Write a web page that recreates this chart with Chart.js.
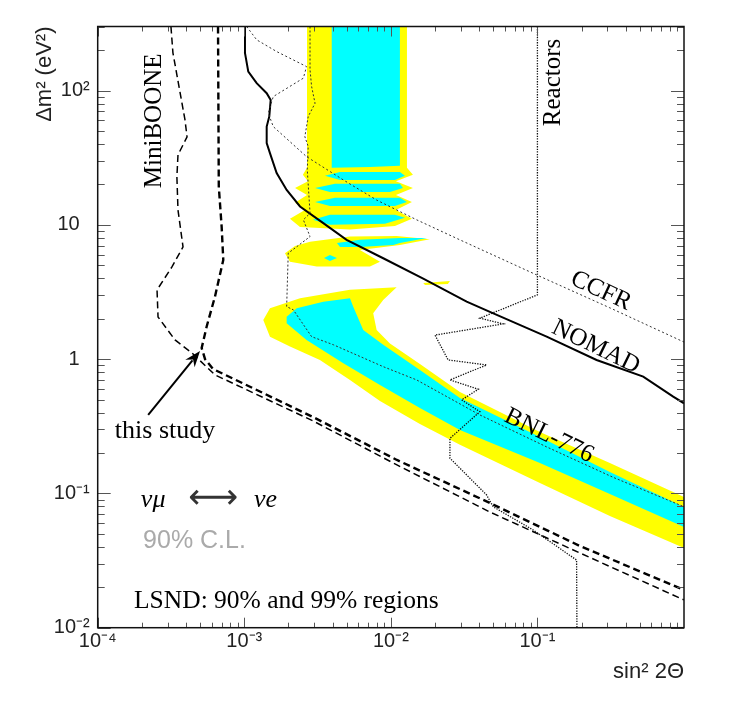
<!DOCTYPE html>
<html><head><meta charset="utf-8">
<script src="https://cdn.jsdelivr.net/npm/chart.js@4.4.0/dist/chart.umd.min.js"></script>
<style>html,body{margin:0;padding:0;background:#fff}canvas{display:block}</style>
</head><body>
<canvas id="c" width="747" height="715"></canvas>
<script>
// ---------- axis ticks ----------
const xTicks = [1e-4, 1e-3, 1e-2, 1e-1];
const xTickLabels = ['10\u207B\u2074', '10\u207B\u00B3', '10\u207B\u00B2', '10\u207B\u00B9'];
const yTicks = [1e-2, 1e-1, 1, 10, 100];
const yTickLabels = ['10\u207B\u00B2', '10\u207B\u00B9', '1\u2002', '10\u2002', '10\u00B2'];

// ---------- exclusion curves [sin^2 2theta, dm^2] ----------
const miniboone = [[3.16e-4,300],[3.26e-4,191],[3.94e-4,60.5],[4.07e-4,45.2],[3.53e-4,33.2],[3.47e-4,22.8],[3.53e-4,12.9],[3.82e-4,6.85],[3.21e-4,4.86],[2.54e-4,3.28],[2.58e-4,2.06],[3.37e-4,1.39],[4.40e-4,1.11],[6.31e-4,0.763],[2.94e-3,0.347],[1.10e-2,0.163],[4.74e-2,0.0727],[0.195,0.036],[1.0,0.0161]];
const thisStudy = [[6.62e-4,300],[6.70e-4,19.3],[7.01e-4,9.65],[7.19e-4,5.48],[6.31e-4,2.92],[5.54e-4,1.75],[5.12e-4,1.21],[5.40e-4,1.0],[6.11e-4,0.845],[2.94e-3,0.371],[1.10e-2,0.1775],[4.74e-2,0.0849],[0.195,0.0406],[1.0,0.0191]];
const nomad = [[1.011e-3,300],[1.011e-3,190.9],[1.065e-3,138.5],[1.215e-3,113.5],[1.422e-3,95.6],[1.514e-3,85.2],[1.481e-3,64.0],[1.422e-3,53.9],[1.422e-3,40.6],[1.497e-3,34.2],[1.663e-3,24.3],[1.946e-3,18.2],[2.40e-3,13.7],[3.46e-3,10.3],[4.99e-3,7.73],[8.87e-3,5.64],[1.663e-2,3.98],[3.29e-2,2.68],[4.74e-2,2.25],[0.1156,1.47],[0.2533,0.986],[0.527,0.741],[0.844,0.526],[1.0,0.469]];
const ccfr = [[1.038e-3,300],[1.215e-3,238.7],[1.663e-3,195.2],[2.66e-3,150.9],[2.53e-3,123.7],[1.577e-3,90.2],[1.458e-3,67.9],[1.577e-3,53.9],[2.66e-3,32.2],[4.74e-3,21.6],[8.00e-3,15.3],[1.50e-2,10.9],[2.96e-2,7.73],[0.0987,4.24],[0.312,2.41],[1.0,1.34]];
const bnl776 = [[2.81e-3,300],[2.81e-3,142.6],[2.88e-3,107.1],[3.04e-3,80.5],[2.73e-3,64.0],[2.59e-3,45.4],[2.73e-3,38.3],[2.69e-3,25.7],[2.81e-3,12.2],[2.53e-3,10.9],[2.81e-3,8.18],[1.995e-3,6.15],[1.946e-3,2.46],[2.16e-3,2.33],[2.88e-3,1.47],[4.05e-3,1.28],[8.87e-3,0.879],[1.50e-2,0.700],[4.05e-2,0.384],[0.1156,0.222],[0.329,0.1317],[1.0,0.0796]];
const reactors = [[0.1,300],[0.1,3.01],[4.05e-2,2.02],[5.84e-2,1.83],[2.00e-2,1.51],[2.46e-2,0.986],[4.50e-2,0.905],[2.53e-2,0.700],[3.95e-2,0.597],[3.04e-2,0.497],[4.05e-2,0.406],[2.53e-2,0.257],[2.53e-2,0.183],[4.50e-2,0.0974],[4.99e-2,0.0796],[9.36e-2,0.0534],[0.185,0.0319],[0.186,0.01]];

// ---------- LSND allowed regions (99% yellow, 90% cyan) ----------
const lsnd99Column = [[2.68e-3,300],[2.68e-3,26.6],[2.51e-3,23.6],[2.72e-3,21.1],[2.22e-3,18.8],[2.68e-3,16.7],[2.22e-3,14.6],[2.59e-3,12.9],[2.05e-3,11.1],[2.40e-3,9.65],[5.26e-3,9.25],[1.066e-2,9.82],[1.393e-2,11.1],[1.083e-2,12.9],[1.393e-2,14.8],[1.083e-2,16.7],[1.415e-2,18.8],[1.083e-2,21.1],[1.415e-2,23.6],[1.288e-2,26.6],[1.288e-2,300]];
const lsnd99Island = [[1.895e-3,6.15],[2.22e-3,6.97],[2.81e-3,7.50],[5.26e-3,8.18],[1.095e-2,8.27],[1.848e-2,7.82],[1.153e-2,7.09],[6.15e-3,6.51],[8.43e-3,5.32],[7.20e-3,4.89],[3.12e-3,4.89],[2.05e-3,5.32]];
const lsnd99Sliver = [[1.663e-2,3.69],[2.53e-2,3.82],[2.45e-2,3.63],[1.71e-2,3.57]];
const lsnd99Band = [[1.095e-2,3.43],[5.26e-3,3.28],[2.40e-3,2.84],[1.497e-3,2.39],[1.348e-3,1.96],[1.497e-3,1.47],[2.05e-3,1.24],[3.28e-3,0.986],[5.26e-3,0.700],[8.43e-3,0.488],[1.579e-2,0.329],[2.96e-2,0.230],[0.104,0.1196],[0.312,0.0679],[1.0,0.0392],[1.0,0.0941],[0.312,0.1686],[0.104,0.287],[2.96e-2,0.570],[1.579e-2,0.921],[9.86e-3,1.31],[8.00e-3,1.65],[7.58e-3,2.20],[8.87e-3,2.76]];
const lsnd90Column = [[3.95e-3,300],[3.95e-3,26.6],[7.20e-3,27.0],[1.153e-2,27.5],[1.153e-2,300]];
const lsnd90Lobe1 = [[3.55e-3,23.2],[4.50e-3,24.8],[1.153e-2,24.8],[1.248e-2,23.2],[1.066e-2,21.6],[4.50e-3,21.6]];
const lsnd90Lobe2 = [[3.04e-3,18.8],[4.16e-3,20.2],[1.153e-2,20.2],[1.21e-2,18.8],[9.86e-3,17.6],[3.84e-3,17.6]];
const lsnd90Lobe3 = [[3.04e-3,14.8],[4.16e-3,15.9],[1.153e-2,15.9],[1.288e-2,14.8],[1.066e-2,13.8],[3.84e-3,13.8]];
const lsnd90Lobe4 = [[2.94e-3,10.9],[3.84e-3,11.9],[1.066e-2,11.9],[1.248e-2,11.3],[9.11e-3,10.2],[3.84e-3,10.0]];
const lsnd90Island = [[4.29e-3,7.34],[6.15e-3,7.73],[1.153e-2,7.99],[1.763e-2,7.99],[1.153e-2,7.34],[1.038e-2,7.09],[6.15e-3,6.85],[4.50e-3,6.85]];
const lsnd90Blob = [[3.50e-3,5.67],[3.84e-3,5.97],[4.29e-3,5.67],[3.84e-3,5.39]];
const lsnd90Band = [[5.26e-3,2.84],[3.46e-3,2.68],[2.28e-3,2.39],[1.946e-3,2.07],[1.946e-3,1.85],[2.66e-3,1.39],[4.74e-3,0.932],[8.43e-3,0.642],[1.579e-2,0.433],[2.96e-2,0.297],[0.104,0.1686],[0.312,0.0991],[1.0,0.0562],[1.0,0.0792],[0.312,0.1445],[0.104,0.263],[2.96e-2,0.514],[1.579e-2,0.831],[8.87e-3,1.28],[6.48e-3,1.65],[5.54e-3,2.46]];

// ---------- annotations ----------
const arrowFrom = [2.21e-4, 0.384];
const arrowTo = [4.99e-4, 1.15];
const SERIF = '"Liberation Serif", "DejaVu Serif", serif';
const SANS = '"Liberation Sans", "DejaVu Sans", sans-serif';
const texts = [
  {t:'MiniBOONE', x:2.42e-4, y:59.5, rot:-90, font:'25px '+SERIF},
  {t:'Reactors', x:0.1296, y:115, rot:-90, font:'25px '+SERIF},
  {t:'CCFR', x:0.271, y:3.22, rot:25, font:'25px '+SERIF},
  {t:'NOMAD', x:0.2506, y:1.23, rot:26, font:'25px '+SERIF},
  {t:'BNL-776', x:0.1198, y:0.268, rot:26, font:'25px '+SERIF},
  {t:'this study', x:2.88e-4, y:0.292, rot:0, font:'26px '+SERIF},
  {t:'\u03BD\u03BC', x:1.97e-4, y:0.0792, rot:0, font:'italic 26px '+SERIF, align:'left', base:'alphabetic'},
  {t:'\u03BDe', x:1.164e-3, y:0.0792, rot:0, font:'italic 26px '+SERIF, align:'left', base:'alphabetic'},
  {t:'90% C.L.', x:2.04e-4, y:0.0392, rot:0, font:'25px '+SANS, color:'#aaaaaa', align:'left', base:'alphabetic'},
  {t:'LSND: 90% and 99% regions', x:1.77e-4, y:0.0140, rot:0, font:'25.5px '+SERIF, align:'left', base:'alphabetic'}
];
const bothArrow = {t:'\u27F7', x:6.11e-4, y:0.0909, width:50};

const pts = a => a.map(p => ({x:p[0], y:p[1]}));
const poly = (d, c, o) => ({data:pts(d), showLine:true, fill:'shape', backgroundColor:c, borderColor:'rgba(0,0,0,0)', borderWidth:0, pointRadius:0, order:o});
const line = (d, w, dash, c) => ({data:pts(d), showLine:true, fill:false, borderColor:c, borderWidth:w, borderDash:dash, pointRadius:0, order:0});
const Y = '#ffff00', C = '#00ffff';

const deco = {
  id:'deco',
  afterDatasetsDraw(chart){
    const {ctx, chartArea:a, scales:{x, y}} = chart;
    ctx.save();
    // inside tick marks on all four sides
    ctx.strokeStyle = '#555'; ctx.lineWidth = 1;
    ctx.beginPath();
    for (let d = -4; d < 0; d++) for (let k = 1; k < 10; k++) {
      const px = Math.round(x.getPixelForValue(k * Math.pow(10, d))) + 0.5;
      const L = k === 1 ? 10 : 5;
      ctx.moveTo(px, a.bottom); ctx.lineTo(px, a.bottom - L);
      ctx.moveTo(px, a.top); ctx.lineTo(px, a.top + L);
    }
    for (let d = -2; d <= 2; d++) for (let k = 1; k < 10; k++) {
      const v = k * Math.pow(10, d); if (v > 300) continue;
      const py = Math.round(y.getPixelForValue(v)) + 0.5;
      const L = k === 1 ? 13 : 7;
      ctx.moveTo(a.left, py); ctx.lineTo(a.left + L, py);
      ctx.moveTo(a.right, py); ctx.lineTo(a.right - L, py);
    }
    ctx.stroke();
    // frame
    ctx.strokeStyle = '#111'; ctx.lineWidth = 1.5;
    ctx.strokeRect(a.left, a.top, a.right - a.left, a.bottom - a.top);
    // arrow "this study"
    const x0 = x.getPixelForValue(arrowFrom[0]), y0 = y.getPixelForValue(arrowFrom[1]);
    const x1 = x.getPixelForValue(arrowTo[0]), y1 = y.getPixelForValue(arrowTo[1]);
    const ang = Math.atan2(y1 - y0, x1 - x0);
    ctx.strokeStyle = '#000'; ctx.fillStyle = '#000'; ctx.lineWidth = 2;
    ctx.beginPath(); ctx.moveTo(x0, y0);
    ctx.lineTo(x1 - 12 * Math.cos(ang), y1 - 12 * Math.sin(ang)); ctx.stroke();
    ctx.beginPath(); ctx.moveTo(x1, y1);
    ctx.lineTo(x1 - 16 * Math.cos(ang) + 6 * Math.sin(ang), y1 - 16 * Math.sin(ang) - 6 * Math.cos(ang));
    ctx.lineTo(x1 - 11 * Math.cos(ang), y1 - 11 * Math.sin(ang));
    ctx.lineTo(x1 - 16 * Math.cos(ang) - 6 * Math.sin(ang), y1 - 16 * Math.sin(ang) + 6 * Math.cos(ang));
    ctx.closePath(); ctx.fill();
    // texts
    for (const s of texts) {
      ctx.save();
      ctx.translate(x.getPixelForValue(s.x), y.getPixelForValue(s.y));
      ctx.rotate((s.rot || 0) * Math.PI / 180);
      ctx.font = s.font; ctx.fillStyle = s.color || '#000';
      ctx.textAlign = s.align || 'center'; ctx.textBaseline = s.base || 'middle';
      ctx.fillText(s.t, 0, 0);
      ctx.restore();
    }
    // double arrow glyph
    ctx.font = '100px "DejaVu Sans", sans-serif';
    const w100 = ctx.measureText(bothArrow.t).width || 100;
    const fs = 100 * bothArrow.width / w100;
    ctx.font = fs.toFixed(1) + 'px "DejaVu Sans", sans-serif';
    ctx.fillStyle = '#333'; ctx.textAlign = 'center'; ctx.textBaseline = 'middle';
    ctx.fillText(bothArrow.t, x.getPixelForValue(bothArrow.x), y.getPixelForValue(bothArrow.y));
    ctx.restore();
  }
};

new Chart(document.getElementById('c'), {
  type:'scatter',
  data:{datasets:[
    poly(lsnd99Column, Y, 2), poly(lsnd99Island, Y, 2), poly(lsnd99Sliver, Y, 2), poly(lsnd99Band, Y, 2),
    poly(lsnd90Column, C, 1), poly(lsnd90Lobe1, C, 1), poly(lsnd90Lobe2, C, 1), poly(lsnd90Lobe3, C, 1),
    poly(lsnd90Lobe4, C, 1), poly(lsnd90Island, C, 1), poly(lsnd90Blob, C, 1), poly(lsnd90Band, C, 1),
    line(bnl776, 1, [2, 2], '#333'),
    line(ccfr, 1, [2, 2.5], '#333'),
    line(reactors, 1.3, [1.3, 1.3], '#111'),
    line(nomad, 2, [], '#000'),
    line(miniboone, 1.5, [7, 4], '#000'),
    line(thisStudy, 2.4, [7, 4], '#000')
  ]},
  options:{
    responsive:false, animation:false, devicePixelRatio:1,
    layout:{padding:{left:0, top:26.5, right:63, bottom:0}},
    plugins:{legend:{display:false}, tooltip:{enabled:false}},
    elements:{line:{tension:0}},
    scales:{
      x:{type:'logarithmic', position:'bottom', min:1e-4, max:1,
        afterBuildTicks:s => { s.ticks = xTicks.map(v => ({value:v})); },
        afterFit:s => { s.height = 87.3; },
        grid:{display:false, drawTicks:false}, border:{display:false},
        ticks:{autoSkip:false, maxRotation:0, padding:2, color:'#222', font:{family:'Liberation Sans', size:20},
          callback:(v, i) => xTickLabels[i]},
        title:{display:true, text:'sin\u00B2 2\u0398', align:'end', color:'#222',
          font:{family:'Liberation Sans', size:22}, padding:{top:0, bottom:30}}
      },
      y:{type:'logarithmic', position:'left', min:0.01, max:300,
        afterBuildTicks:s => { s.ticks = yTicks.map(v => ({value:v})); },
        afterFit:s => { s.width = 97.7; },
        grid:{display:false, drawTicks:false}, border:{display:false},
        ticks:{autoSkip:false, padding:8, color:'#222', font:{family:'Liberation Sans', size:20},
          callback:(v, i) => yTickLabels[i]},
        title:{display:true, text:'\u0394m\u00B2 (eV\u00B2)', align:'end', color:'#222',
          font:{family:'Liberation Sans', size:22}, padding:{top:32, bottom:0}}
      }
    }
  },
  plugins:[deco]
});
</script>
</body></html>
